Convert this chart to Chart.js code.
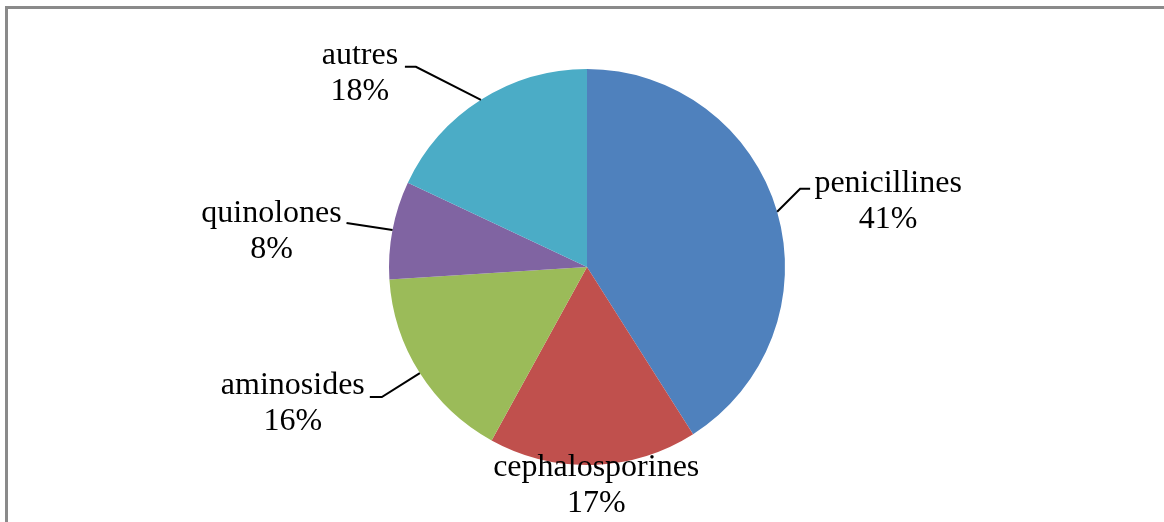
<!DOCTYPE html>
<html lang="fr">
<head>
<meta charset="utf-8">
<title>Antibiotiques</title>
<script src="https://cdn.jsdelivr.net/npm/chart.js@4/dist/chart.umd.min.js"></script>
<style>
    html, body { margin: 0; padding: 0; background: #fff; }
    #wrap { position: relative; width: 1164px; height: 522px; overflow: hidden; }
    #frame {
        position: absolute; left: 5px; top: 6px; right: -10px; bottom: -10px;
        border-top: 3px solid #8a8a8a; border-left: 3px solid #8a8a8a;
        pointer-events: none;
    }
    canvas { position: absolute; left: 0; top: 0; }
</style>
</head>
<body>
<div id="wrap">
    <canvas id="pie" width="1164" height="522"></canvas>
    <div id="frame"></div>
</div>
<script>
const CLASSES = ['penicillines', 'cephalosporines', 'aminosides', 'quinolones', 'autres'];
const SHARES = [41, 17, 16, 8, 18];
const SLICE_COLORS = ['#4f81bd', '#c0504d', '#9bbb59', '#8064a2', '#4bacc6'];

// label placement relative to the slice's outer midpoint:
// elbow/end of the leader line, and the baseline of the first text line
const LABEL_LAYOUT = [
    { elbow: [23, -23], end: [33, -23], text: [111, -20] },
    { elbow: null, end: null, text: [3, 11] },
    { elbow: [-38, 24], end: [-50, 24], text: [-127, 21] },
    { elbow: [-46, -7], end: [-46, -7], text: [-121, -8] },
    { elbow: [-65, -33], end: [-76, -33], text: [-121, -36] },
];

const LINE_GAP = 36;
const LABEL_FONT = '32px "Liberation Serif", "Times New Roman", serif';

const outsideLabels = {
    id: 'outsideLabels',
    afterDatasetsDraw(chart) {
        const ctx = chart.ctx;
        const arcs = chart.getDatasetMeta(0).data;
        const values = chart.data.datasets[0].data;

        ctx.save();
        ctx.font = LABEL_FONT;
        ctx.fillStyle = '#000';
        ctx.strokeStyle = '#000';
        ctx.lineWidth = 2;
        ctx.textAlign = 'center';
        ctx.textBaseline = 'alphabetic';

        arcs.forEach((arc, i) => {
            const p = arc.getProps(['x', 'y', 'startAngle', 'endAngle', 'outerRadius'], true);
            const mid = (p.startAngle + p.endAngle) / 2;
            const ax = p.x + Math.cos(mid) * p.outerRadius;
            const ay = p.y + Math.sin(mid) * p.outerRadius;
            const lay = LABEL_LAYOUT[i];

            if (lay.elbow) {
                ctx.beginPath();
                ctx.moveTo(ax, ay);
                ctx.lineTo(ax + lay.elbow[0], ay + lay.elbow[1]);
                ctx.lineTo(ax + lay.end[0], ay + lay.end[1]);
                ctx.stroke();
            }

            const tx = ax + lay.text[0];
            const ty = ay + lay.text[1];
            ctx.fillText(chart.data.labels[i], tx, ty);
            ctx.fillText(`${values[i]}%`, tx, ty + LINE_GAP);
        });
        ctx.restore();
    },
};

new Chart(document.getElementById('pie'), {
    type: 'pie',
    data: {
        labels: CLASSES,
        datasets: [{
            data: SHARES,
            backgroundColor: SLICE_COLORS,
            borderWidth: 0,
        }],
    },
    options: {
        responsive: false,
        animation: false,
        layout: { padding: { top: 69, bottom: 57, left: 389, right: 379 } },
        plugins: {
            legend: { display: false },
            tooltip: { enabled: false },
        },
    },
    plugins: [outsideLabels],
});
</script>
</body>
</html>
